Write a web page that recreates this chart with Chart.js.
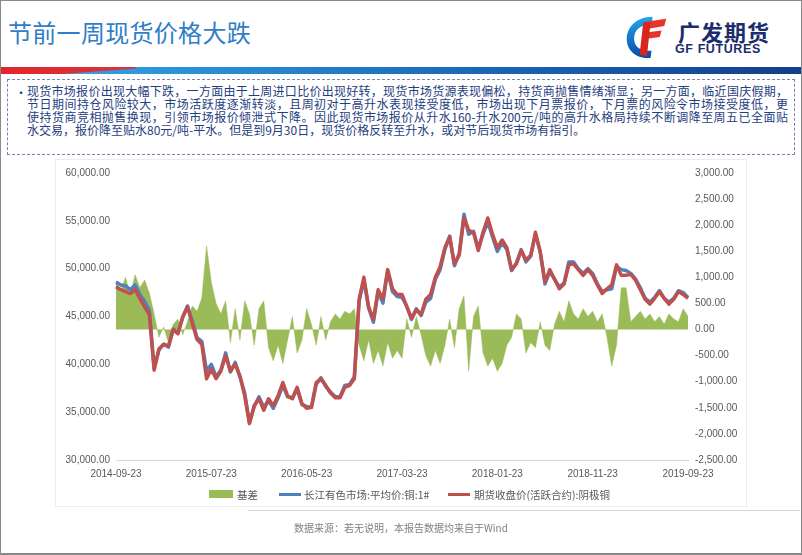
<!DOCTYPE html>
<html>
<head>
<meta charset="utf-8">
<script src="https://cdn.jsdelivr.net/npm/chart.js@4.4.1/dist/chart.umd.min.js"></script>
<style>
    html, body { margin: 0; padding: 0; background: #fff; }
    body { width: 802px; height: 555px; position: relative; overflow: hidden; font-family: "Noto Sans CJK SC", "Noto Sans", sans-serif; }
    .frame { position: absolute; left: 0; top: 0; width: 800px; height: 552px; border: 1px solid #8a8a8a; border-bottom-width: 2px; }
    .title { position: absolute; left: 8px; top: 14px; font-size: 24px; color: #2f7ec7; letter-spacing: 0.3px; }
    .logo-cn { position: absolute; left: 678px; top: 15px; font-size: 22px; font-weight: 700; color: #1c2c6c; letter-spacing: 1px; }
    .logo-en { position: absolute; left: 675px; top: 42px; font-size: 12.5px; font-weight: 700; color: #1c2c6c; font-family: "Liberation Sans", Arial, sans-serif; letter-spacing: 0.6px; }
    .logo-icon { position: absolute; left: 624px; top: 13px; }
    .band { position: absolute; left: 1px; top: 67px; width: 800px; height: 7px; background: linear-gradient(to right, #3aa8e8 0%, #2a8fd6 25%, #1a66b8 60%, #123f8c 100%); }
    .band-red { position: absolute; left: 1px; top: 67px; width: 135px; height: 7px; background: linear-gradient(to right, #e3262b, #d9343a); clip-path: polygon(0 0, 100% 0, 100% 20%, 45% 100%, 0 100%); }
    .note { position: absolute; left: 7px; top: 79px; width: 786px; height: 74px; border: 1px dashed #6f88b8; }
    .note .bullet { position: absolute; left: 7px; top: 4px; font-size: 12px; color: #1f4080; }
    .note .lines { position: absolute; left: 19px; top: 4px; width: 761px; font-size: 12px; line-height: 13px; color: #1f4080; }
    .note .lines div { text-align: justify; text-align-last: justify; white-space: nowrap; }
    .note .lines div.last { text-align-last: left; }
    .chart-box { position: absolute; left: 55px; top: 159px; width: 690px; height: 346px; border: 1px solid #ececec; }
    #chart-wrap { position: absolute; left: 55px; top: 160px; width: 690px; height: 345px; }
    .legend { position: absolute; top: 487px; font-size: 10.5px; color: #595959; font-family: "Noto Sans CJK SC", sans-serif; }
    .legend .sw { position: absolute; }
    .footer-line { position: absolute; left: 248px; top: 510px; width: 552px; height: 1px; background: #d6d6d6; }
    .footer { position: absolute; left: 0; width: 802px; top: 520px; text-align: center; font-size: 10px; color: #808080; }
</style>
</head>
<body>
<div class="frame"></div>
<div class="title">节前一周现货价格大跌</div>
<svg class="logo-icon" width="44" height="48" viewBox="0 0 48 50">
    <defs>
        <linearGradient id="gb" x1="0" y1="0" x2="0" y2="1">
            <stop offset="0" stop-color="#22a6ea"/>
            <stop offset="1" stop-color="#0c4aa6"/>
        </linearGradient>
    </defs>
    <path d="M31 3 C13 3 3 15 3 27 C3 40 13 48 26 48 L29 48 L30 40 L26 40 C17 40 11 35 11 27 C11 17 18 11 31 11 Z" fill="url(#gb)"/>
    <path d="M21 9 L46 5 L44 13 L27 16 Z" fill="#e8332a"/>
    <path d="M24 20 L41 18 L39 25 L25 27 Z" fill="#e8332a"/>
    <path d="M21 9 L29 9 L25 46 L17 44 Z" fill="#d8261f"/>
</svg>
<div class="logo-cn">广发期货</div>
<div class="logo-en">GF FUTURES</div>
<div class="band"></div>
<div class="band-red"></div>

<div class="note">
    <div class="bullet">•</div>
    <div class="lines">
        <div>现货市场报价出现大幅下跌，一方面由于上周进口比价出现好转，现货市场货源表现偏松，持货商抛售情绪渐显；另一方面，临近国庆假期，</div>
        <div>节日期间持仓风险较大，市场活跃度逐渐转淡，且周初对于高升水表现接受度低，市场出现下月票报价，下月票的风险令市场接受度低，更</div>
        <div>使持货商竞相抛售换现，引领市场报价倾泄式下降。因此现货市场报价从升水160-升水200元/吨的高升水格局持续不断调降至周五已全面贴</div>
        <div class="last">水交易，报价降至贴水80元/吨-平水。但是到9月30日，现货价格反转至升水，或对节后现货市场有指引。</div>
    </div>
</div>

<div class="chart-box"></div>
<div id="chart-wrap"><canvas id="basisChart"></canvas></div>

<div class="legend" style="left:0;width:802px;height:14px;">
    <span class="sw" style="left:209px;top:3px;width:24px;height:8px;background:#9bbb59;"></span>
    <span style="position:absolute;left:237px;top:0;">基差</span>
    <span class="sw" style="left:279px;top:6px;width:22px;height:3px;background:#4f81bd;"></span>
    <span style="position:absolute;left:304px;top:0;">长江有色市场:平均价:铜:1#</span>
    <span class="sw" style="left:448px;top:6px;width:22px;height:3px;background:#c0504d;"></span>
    <span style="position:absolute;left:474px;top:0;">期货收盘价(活跃合约):阴极铜</span>
</div>

<div class="footer-line"></div>
<div class="footer">数据来源：若无说明，本报告数据均来自于Wind</div>

<script>
// half-monthly sampling, 2014-09-23 .. 2019-09-23
const categories = ['2014-09-23'];
for (let k = 1; k <= 60; k++) {
    const t = 2014 * 12 + 8 + k;
    const yy = Math.floor(t / 12);
    const mm = String(t % 12 + 1).padStart(2, '0');
    categories.push(`${yy}-${mm}-08`, `${yy}-${mm}-23`);
}

const tickLabels = ['2014-09-23', '2015-07-23', '2016-05-23', '2017-03-23', '2018-01-23', '2018-11-23', '2019-09-23'];

// 期货收盘价(活跃合约):阴极铜
const futuresClose = [
    48100, 47800, 47600, 47400, 47800, 46900, 46000, 45200, 39400, 41600,
    42100, 41900, 43650, 43200, 45000, 46000, 44300, 42600, 42100, 38500,
    39500, 38500, 39300, 40900, 39300, 40000, 38800, 36700, 33800, 35700,
    36400, 35200, 36400, 35700, 36700, 38100, 36700, 36400, 37600, 35900,
    35400, 35500, 38100, 38500, 37800, 37000, 36500, 36500, 37600, 37800,
    38500, 46800, 49100, 46000, 44700, 47800, 46800, 49900, 47900, 47300,
    47300, 46000, 44800, 45700, 45200, 46800, 47300, 49100, 50200, 52200,
    53300, 50500, 51400, 55300, 54000, 53800, 51900, 53800, 55300, 53600,
    52200, 53000, 52200, 49900, 50500, 51900, 50900, 51400, 53800, 51700,
    48600, 49900, 48900, 47900, 48400, 50400, 50500, 49900, 49300, 49900,
    49300, 48300, 47400, 47900, 48300, 50400, 49300, 49300, 49400, 48800,
    47800, 46800, 46300, 46900, 47600, 46900, 46300, 46800, 47600, 47300,
    46900
];

// 长江有色市场:平均价:铜:1#
const spotAvg = [
    48600, 48300, 48200, 47800, 48300, 47300, 46600, 45600, 39600, 41500,
    42100, 41800, 43700, 43300, 44900, 46100, 44500, 42800, 42400, 39300,
    40000, 38700, 39400, 41200, 39200, 40200, 38700, 37000, 33900, 35600,
    36600, 35500, 36200, 35400, 36500, 37800, 36600, 36500, 37400, 35800,
    35600, 35500, 37900, 38600, 37700, 37100, 36600, 36600, 37800, 37900,
    38700, 46600, 48800, 45900, 44400, 47600, 46400, 49800, 47600, 47100,
    47000, 46100, 44700, 45800, 45100, 46500, 46900, 48900, 49900, 52000,
    53400, 50300, 51600, 55700, 53600, 53900, 52100, 53600, 54900, 53300,
    51800, 52700, 52000, 49800, 50600, 52000, 50700, 51300, 53600, 51800,
    48400, 49700, 48900, 48100, 48500, 50700, 50700, 50000, 49500, 50000,
    49500, 48400, 47600, 47800, 47900, 50200, 49900, 49800, 49500, 48900,
    48000, 46900, 46500, 47000, 47700, 46900, 46500, 46900, 47700, 47500,
    47000
];

// 基差 (right axis)
const basis = [
    900, 750, 1000, 650, 1050, 800, 950, 700, 300, -150,
    50, -250, 100, 200, -100, 150, 450, 350, 600, 1600,
    900, 500, 300, 550, -250, 400, -200, 550, 300, -300,
    400, 550, -350, -600, -300, -650, -200, 250, -450, -200,
    400, 100, -300, 250, -200, 150, 300, 200, 350, 300,
    400, -300, -600, -200, -650, -400, -700, -250, -550, -400,
    -550, 200, -150, 250, -100, -500, -700, -400, -650, -300,
    200, -350, 400, 650, -800, 250, 450, -450, -700, -550,
    -800, -650, -300, -150, 300, 200, -450, -250, -350, 150,
    -300, -400, 100, 350, 150, 550, 300, 200, 400, 250,
    350, 150, 300, -150, -700, -300, 800, 800, 150, 250,
    350, 200, 300, 150, 250, 100, 300, 200, 150, 400,
    250
];

const fmt = (v) => Number(v).toLocaleString('en-US', { minimumFractionDigits: 2, maximumFractionDigits: 2 });
const tickFont = { family: '"Liberation Sans", Arial, sans-serif', size: 10 };

new Chart(document.getElementById('basisChart'), {
    type: 'line',
    data: {
        labels: categories,
        datasets: [
            {
                label: '期货收盘价(活跃合约):阴极铜',
                data: futuresClose,
                yAxisID: 'yPrice',
                borderColor: '#c0504d',
                borderWidth: 3.5,
                pointRadius: 0,
                tension: 0,
                borderJoinStyle: 'round',
                order: 0,
            },
            {
                label: '长江有色市场:平均价:铜:1#',
                data: spotAvg,
                yAxisID: 'yPrice',
                borderColor: '#4f81bd',
                borderWidth: 3.5,
                pointRadius: 0,
                tension: 0,
                borderJoinStyle: 'round',
                order: 1,
            },
            {
                label: '基差',
                data: basis,
                yAxisID: 'yBasis',
                borderColor: '#9bbb59',
                backgroundColor: '#9bbb59',
                borderWidth: 0.5,
                pointRadius: 0,
                tension: 0,
                fill: 'origin',
                order: 2,
            },
        ],
    },
    options: {
        responsive: true,
        maintainAspectRatio: false,
        animation: false,
        layout: { padding: { top: 10, left: 0, right: 0, bottom: 0 } },
        plugins: {
            legend: { display: false },
            tooltip: { enabled: false },
        },
        scales: {
            x: {
                type: 'category',
                offset: false,
                grid: { display: false, drawTicks: false },
                border: { display: true, color: '#d9d9d9', width: 1 },
                ticks: {
                    autoSkip: false,
                    maxRotation: 0,
                    padding: 8,
                    color: '#595959',
                    font: tickFont,
                    callback: (value, index) => (tickLabels.includes(categories[index]) ? categories[index] : null),
                },
                afterFit: (scale) => { scale.height = 45; },
            },
            yPrice: {
                position: 'left',
                min: 30000,
                max: 60000,
                grid: { display: false, drawTicks: false },
                border: { display: false },
                ticks: { stepSize: 5000, padding: 6, color: '#595959', font: tickFont, callback: fmt },
                afterFit: (scale) => { scale.width = 61; },
            },
            yBasis: {
                position: 'right',
                min: -2500,
                max: 3000,
                grid: { display: false, drawTicks: false },
                border: { display: false },
                ticks: { stepSize: 500, padding: 7, color: '#595959', font: tickFont, callback: fmt },
                afterFit: (scale) => { scale.width = 57; },
            },
        },
    },
});
</script>
</body>
</html>
